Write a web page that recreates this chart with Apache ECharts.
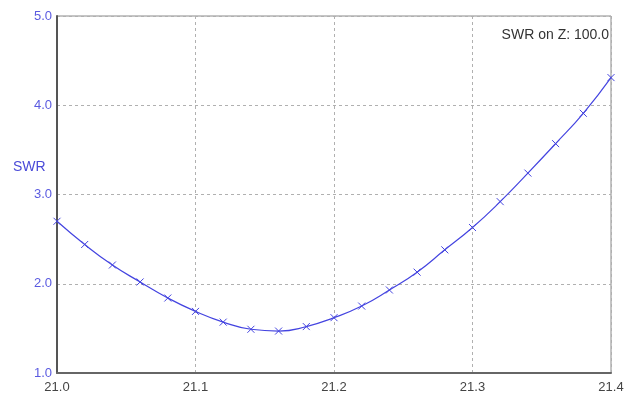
<!DOCTYPE html>
<html>
<head>
<meta charset="utf-8">
<script src="https://cdn.jsdelivr.net/npm/echarts@6/dist/echarts.min.js"></script>
<style>html,body{margin:0;padding:0;background:#fff;}#c{width:636px;height:401px;}</style>
</head>
<body>
<div id="c"></div>
<script>
const freqs = [21.00,21.02,21.04,21.06,21.08,21.10,21.12,21.14,21.16,21.18,21.20,21.22,21.24,21.26,21.28,21.30,21.32,21.34,21.36,21.38,21.40];
const swr = [2.70,2.44,2.21,2.02,1.84,1.69,1.57,1.49,1.47,1.52,1.62,1.75,1.93,2.13,2.38,2.63,2.92,3.24,3.57,3.91,4.31];
const title = 'SWR on Z: 100.0';
const yName = 'SWR';

const chart = echarts.init(document.getElementById('c'), null, {renderer: 'canvas'});
chart.setOption({
  animation: false,
  backgroundColor: '#ffffff',
  grid: {left: 57, right: 25, top: 16, bottom: 28, show: true, borderColor: '#8a8a8a', borderWidth: 1},
  graphic: [
    {type: 'text', right: 27, top: 28, style: {text: title, fill: '#333', font: '14px Arial', textAlign: 'right'}},
    {type: 'text', left: 13, top: 160, style: {text: yName, fill: '#4a4ad8', font: '14px Arial'}}
  ],
  xAxis: {
    type: 'value', min: 21.0, max: 21.4, interval: 0.1,
    axisLine: {show: true, onZero: false, lineStyle: {color: '#666', width: 2}},
    axisTick: {show: false},
    axisLabel: {color: '#444', fontFamily: 'Arial', fontSize: 13, margin: 8, formatter: v => v.toFixed(1)},
    splitLine: {show: true, lineStyle: {color: '#b0b0b0', type: [3, 3], width: 1}}
  },
  yAxis: {
    type: 'value', min: 1, max: 5, interval: 1,
    axisLine: {show: true, onZero: false, lineStyle: {color: '#555', width: 2}},
    axisTick: {show: false},
    axisLabel: {color: '#5a5ae0', fontFamily: 'Arial', fontSize: 13, margin: 5, formatter: v => v.toFixed(1)},
    splitLine: {show: true, lineStyle: {color: '#b0b0b0', type: [3, 3], width: 1}}
  },
  series: [{
    type: 'line',
    data: freqs.map((f, i) => [f, swr[i]]),
    smooth: true,
    symbol: 'path://M0,0L10,10M10,0L0,10',
    symbolSize: 7,
    itemStyle: {color: 'rgba(0,0,0,0)', borderColor: '#4444e0', borderWidth: 1},
    lineStyle: {color: '#4444e0', width: 1.2}
  }]
});
</script>
</body>
</html>
